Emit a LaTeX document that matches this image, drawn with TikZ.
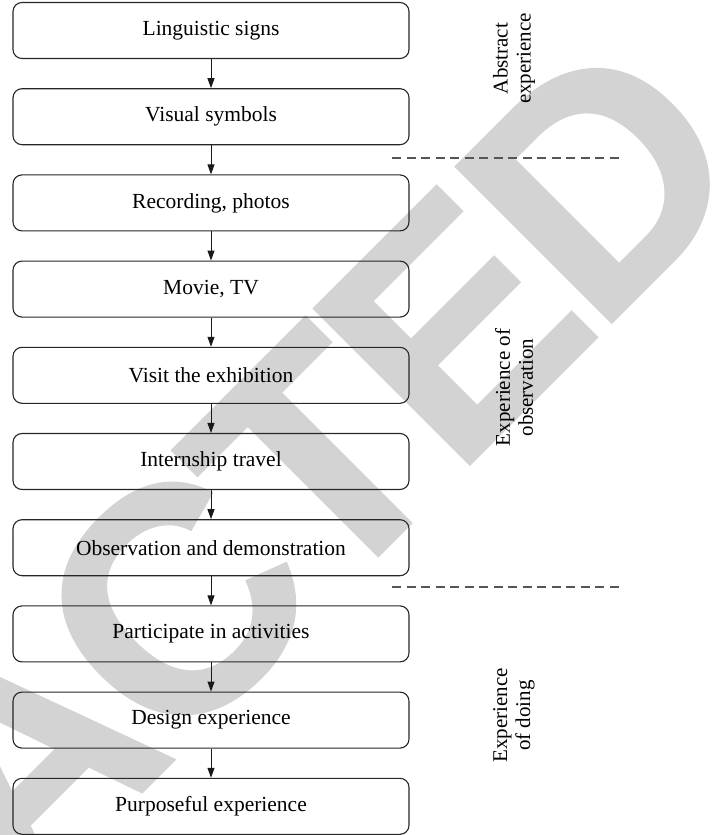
\documentclass[tikz,border=0pt]{standalone}
\usepackage{fontspec}
\setmainfont{Liberation Serif}
\newfontfamily\stampfont{Liberation Sans}[LetterSpace=-4, BoldFeatures={FakeBold=0.8}]
\usetikzlibrary{arrows.meta}
\definecolor{stampgray}{RGB}{211,211,211}
\definecolor{rulegray}{RGB}{85,85,85}

\begin{document}
\begin{tikzpicture}[x=1bp, y=-1bp,
  stage/.style={draw=black!85, line width=1.1bp, rounded corners=9bp,
    minimum width=396bp, minimum height=56bp, inner sep=0pt,
    font=\fontsize{21.5bp}{25bp}\selectfont},
  flow/.style={-{Triangle[length=10bp,width=7bp]}, line width=1bp, draw=black!90},
  band/.style={rotate=90, align=center, inner sep=0pt,
    font=\fontsize{21bp}{23bp}\selectfont},
  divider/.style={draw=rulegray, line width=1.1bp, dash pattern=on 9bp off 5.5bp},
  stamp/.style={rotate=45, inner sep=0pt, text=stampgray,
    font=\stampfont\bfseries\fontsize{320bp}{320bp}\selectfont}
]
\useasboundingbox (0,0) rectangle (724,835);

% stamp lettering behind everything
\begin{scope}
  \clip (0,0) rectangle (724,835);
  \node[stamp, anchor=base east] (stamp) at (760,174) {REDACTED};
\end{scope}

% the chain of stages
\node[stage] (s1)  at (211,30.5)  {Linguistic signs};
\node[stage] (s2)  at (211,116.7) {Visual symbols};
\node[stage] (s3)  at (211,202.9) {Recording, photos};
\node[stage] (s4)  at (211,289.1) {Movie, TV};
\node[stage] (s5)  at (211,375.3) {Visit the exhibition};
\node[stage] (s6)  at (211,461.5) {Internship travel};
\node[stage] (s7)  at (211,547.7) {Observation and demonstration};
\node[stage] (s8)  at (211,633.9) {Participate in activities};
\node[stage] (s9)  at (211,720.1) {Design experience};
\node[stage] (s10) at (211,806.3) {Purposeful experience};

\foreach \a/\b in {s1/s2,s2/s3,s3/s4,s4/s5,s5/s6,s6/s7,s7/s8,s8/s9,s9/s10}
  \draw[flow] (\a) -- (\b);

% group dividers
\coordinate (d1a) at (392,158);
\coordinate (d1b) at (621,158);
\coordinate (d2a) at (392,587);
\coordinate (d2b) at (621,587);
\draw[divider] (d1a) -- (d1b);
\draw[divider] (d2a) -- (d2b);

% group labels
\node[band] (g1) at (514,58.5)  {Abstract\\experience};
\node[band] (g2) at (514,387.5) {Experience of\\observation};
\node[band] (g3) at (514,715.5) {Experience\\of doing};
\end{tikzpicture}
\end{document}
